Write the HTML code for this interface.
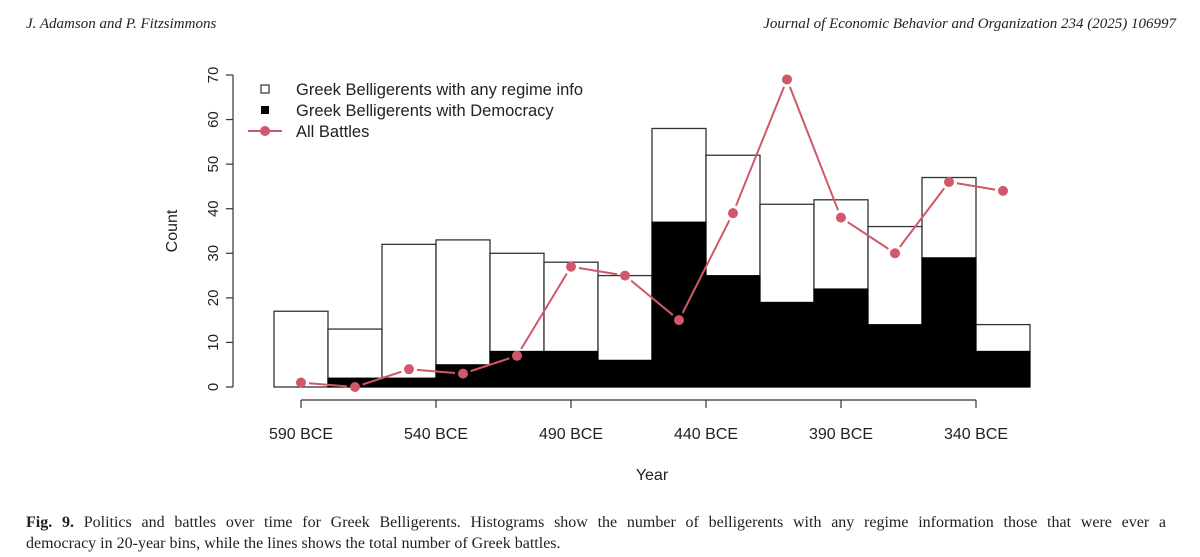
<!DOCTYPE html>
<html><head><meta charset="utf-8"><style>
body{margin:0;background:#fff;width:1200px;height:557px;overflow:hidden;position:relative;font-family:"Liberation Serif",serif}
.hdr{position:absolute;top:16px;font-style:italic;font-size:15px;color:#222}
.cap{position:absolute;left:26px;top:512px;font-size:16px;line-height:21px;color:#222;width:1140px}
.l1{display:block;text-align:justify;text-align-last:justify;white-space:nowrap}
</style></head><body>
<div class="hdr" style="left:26px">J. Adamson and P. Fitzsimmons</div>
<div class="hdr" style="right:24px">Journal of Economic Behavior and Organization 234 (2025) 106997</div>
<svg id="chart" width="1200" height="500" style="position:absolute;left:0;top:0" font-family="Liberation Sans, sans-serif"></svg>
<div class="cap"><span class="l1"><b>Fig. 9.</b> Politics and battles over time for Greek Belligerents. Histograms show the number of belligerents with any regime information those that were ever a</span><span>democracy in 20-year bins, while the lines shows the total number of Greek battles.</span></div>
<script>
const binYears=[590,570,550,530,510,490,470,450,430,410,390,370,350,330];
const totalCounts=[17,13,32,33,30,28,25,58,52,41,42,36,47,14];
const demCounts=[0,2,2,5,8,8,6,37,25,19,22,14,29,8];
const battles=[1,0,4,3,7,27,25,15,39,69,38,30,46,44];
const xTicks=[590,540,490,440,390,340];
const yTicks=[0,10,20,30,40,50,60,70];
const NS="http://www.w3.org/2000/svg";
const svg=document.getElementById('chart');
const X=y=>301+(590-y)*2.7;
const Y=v=>387-v*312/70;
function mk(t,a,p){const e=document.createElementNS(NS,t);for(const k in a)e.setAttribute(k,a[k]);(p||svg).appendChild(e);return e;}
const bw=54;
binYears.forEach((yr,i)=>{
 const r=mk('rect',{x:X(yr)-bw/2,y:Y(totalCounts[i]),width:bw,height:Y(0)-Y(totalCounts[i]),fill:'#fff',stroke:'#333','stroke-width':1.3});
 
 
});
binYears.forEach((yr,i)=>{
 if(!demCounts[i])return;
 const r=mk('rect',{x:X(yr)-bw/2,y:Y(demCounts[i]),width:bw,height:Y(0)-Y(demCounts[i]),fill:'#000',stroke:'#000','stroke-width':1});
 
 
});
const col='#d1576a';
for(let i=0;i<battles.length-1;i++){
 const x1=X(binYears[i]),y1=Y(battles[i]),x2=X(binYears[i+1]),y2=Y(battles[i+1]);
 const dx=x2-x1,dy=y2-y1,L=Math.hypot(dx,dy),g=8;
 if(L<2*g+2)continue;
 const s=mk('line',{x1:x1+dx*g/L,y1:y1+dy*g/L,x2:x2-dx*g/L,y2:y2-dy*g/L,stroke:col,'stroke-width':2});
 
 
}
binYears.forEach((yr,i)=>{
 const c=mk('circle',{cx:X(yr),cy:Y(battles[i]),r:5,fill:col});
 
 
});
const ya=mk('g',{});
mk('line',{x1:233,y1:Y(0),x2:233,y2:Y(70),stroke:'#333','stroke-width':1.2},ya);
yTicks.forEach(v=>{
 mk('line',{x1:226,y1:Y(v),x2:233,y2:Y(v),stroke:'#333','stroke-width':1.2},ya);
 const t=mk('text',{x:0,y:0,transform:`translate(218,${Y(v)}) rotate(-90)`,'text-anchor':'middle','font-size':15,fill:'#222'},ya);
 t.textContent=v;
 
 
});
const yt=mk('text',{transform:'translate(177,231) rotate(-90)','text-anchor':'middle','font-size':16,fill:'#222'});
yt.textContent='Count';
const xa=mk('g',{});
mk('line',{x1:X(590),y1:400,x2:X(340),y2:400,stroke:'#333','stroke-width':1.2},xa);
xTicks.forEach(v=>{
 mk('line',{x1:X(v),y1:400,x2:X(v),y2:408,stroke:'#333','stroke-width':1.2},xa);
 const t=mk('text',{x:X(v),y:439,'text-anchor':'middle','font-size':16,fill:'#222'},xa);
 t.textContent=v+' BCE';
 
 
});
const xt=mk('text',{x:652,y:480,'text-anchor':'middle','font-size':16,fill:'#222'});
xt.textContent='Year';
const lg=mk('g',{});
mk('rect',{x:261,y:85,width:8,height:8,fill:'#fff',stroke:'#333','stroke-width':1.2},lg);
mk('rect',{x:261,y:106,width:8,height:8,fill:'#000'},lg);
mk('line',{x1:248,y1:131,x2:282,y2:131,stroke:col,'stroke-width':2},lg);
mk('circle',{cx:265,cy:131,r:5,fill:col},lg);
[['Greek Belligerents with any regime info',95],['Greek Belligerents with Democracy',116],['All Battles',137]].forEach(([s,y])=>{
 const t=mk('text',{x:296,y:y,'font-size':16.5,fill:'#222'},lg);t.textContent=s;
 
 
});
</script>
</body></html>
